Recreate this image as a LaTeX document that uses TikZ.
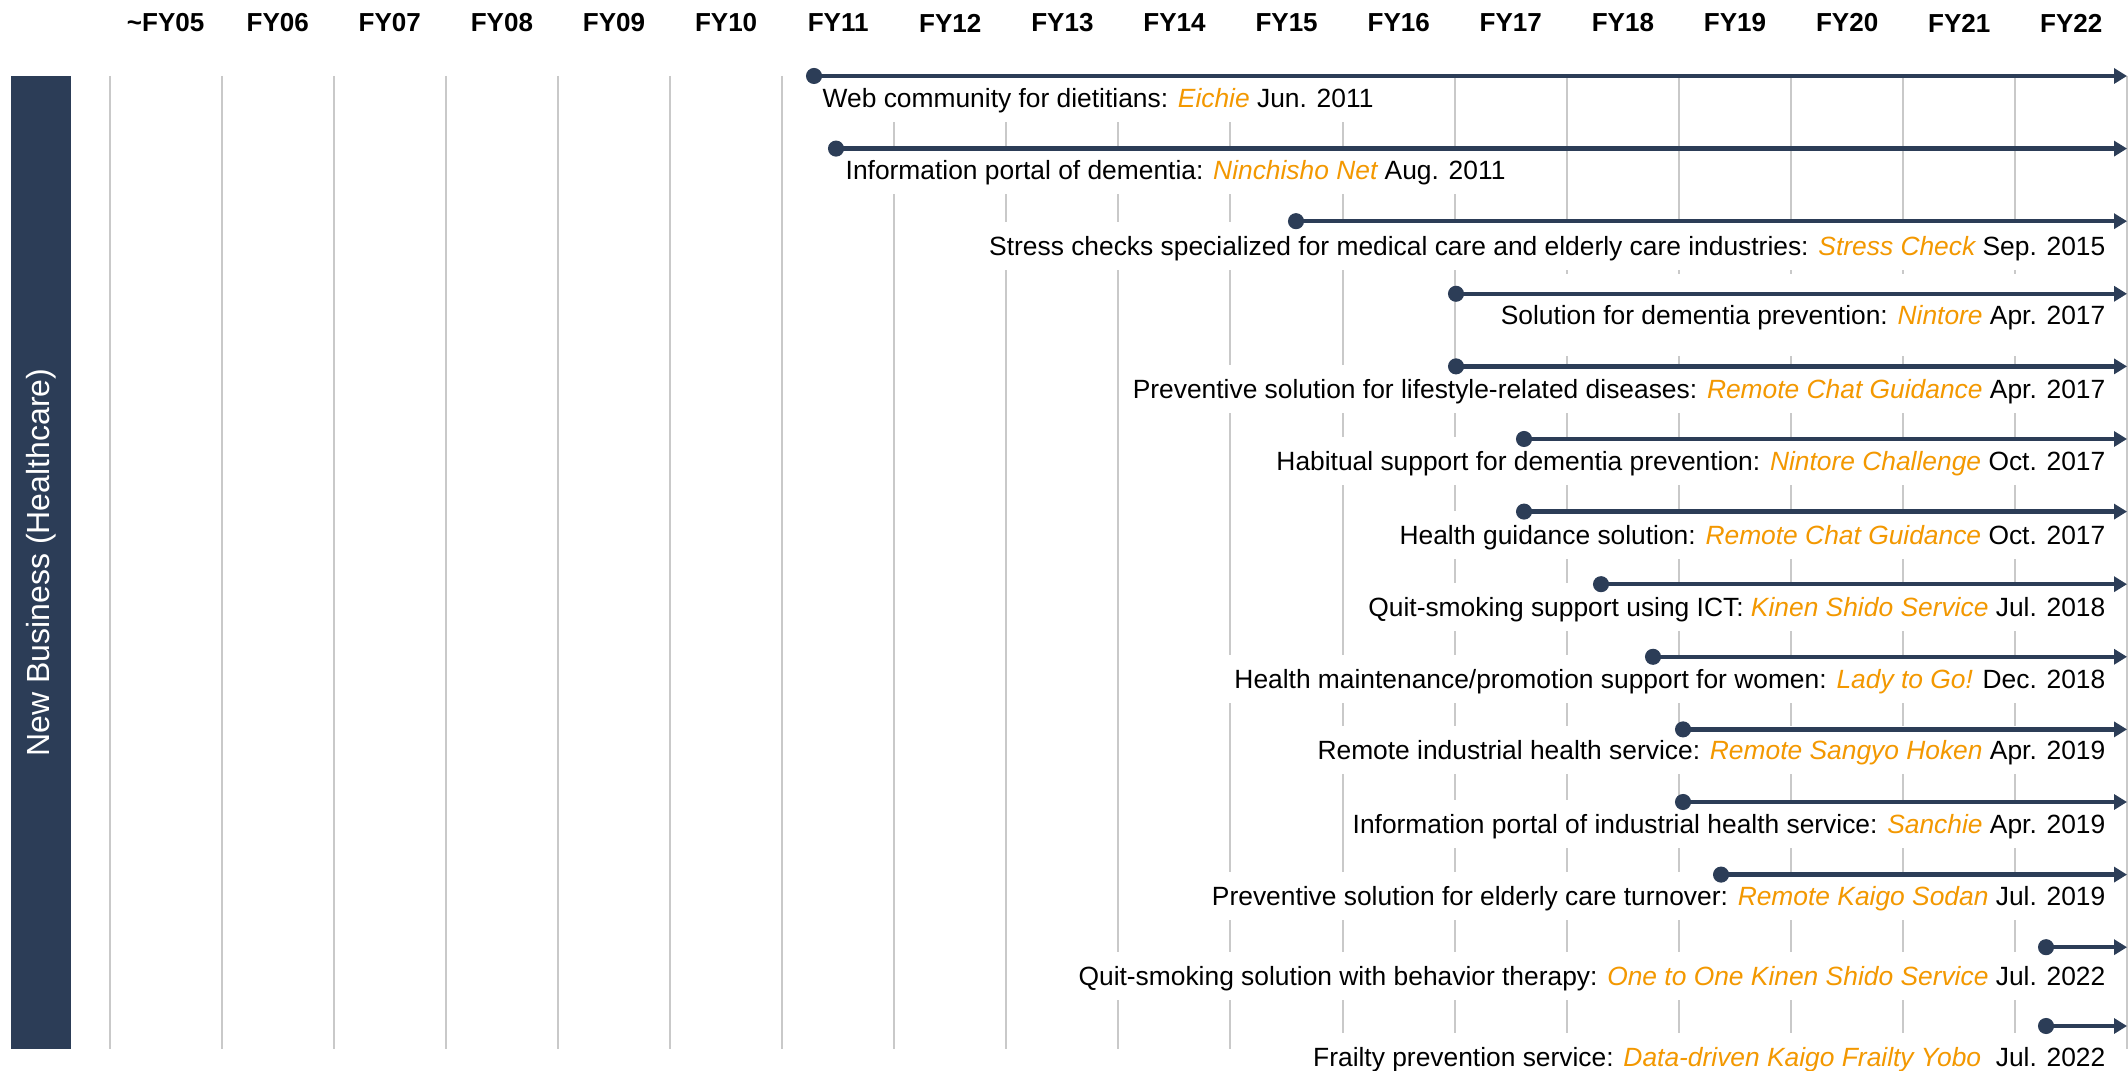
\documentclass[tikz,border=0pt]{standalone}
\usepackage{fontspec}
\setmainfont{Liberation Sans}
\usepackage{tikz}
\usetikzlibrary{arrows.meta}
\definecolor{HCNavy}{HTML}{2C3D57}
\definecolor{HCOrange}{HTML}{F39800}
\definecolor{HCGrid}{HTML}{C9C9C9}
\newcommand{\svc}[1]{\textcolor{HCOrange}{\itshape #1}}
\tikzset{
  yearlabel/.style={inner sep=0pt,font=\fontsize{7.4pt}{8.8pt}\selectfont\bfseries},
  gridline/.style={HCGrid,line width=0.15mm},
  entry/.style={fill=white,inner xsep=0.6mm,inner ysep=0.8mm,text height=0.72em,text depth=0.2em,font=\fontsize{7.5pt}{9pt}\selectfont},
  track/.style={HCNavy,line width=0.45mm,{Circle[length=1.6mm]}-{Triangle[length=1.3mm,width=1.5mm]}},
  sidebar/.style={fill=HCNavy,text=white,rotate=90,minimum width=9.73cm,minimum height=0.6cm,inner sep=0pt,font=\fontsize{9.1pt}{11pt}\selectfont}
}

\begin{document}
\begin{tikzpicture}[x=0.01cm,y=-0.01cm]
\path[use as bounding box] (0,0) rectangle (2128,1071);
\node[sidebar] (bar) at (41,562.5) {New Business (Healthcare)};
\node[yearlabel] (h05) at (165.6,23) {\textasciitilde FY05};
\node[yearlabel] (h06) at (277.7,23) {FY06};
\node[yearlabel] (h07) at (389.8,23) {FY07};
\node[yearlabel] (h08) at (501.9,23) {FY08};
\node[yearlabel] (h09) at (614.0,23) {FY09};
\node[yearlabel] (h10) at (726.1,23) {FY10};
\node[yearlabel] (h11) at (838.2,23) {FY11};
\node[yearlabel] (h12) at (950.3,23) {FY12};
\node[yearlabel] (h13) at (1062.4,23) {FY13};
\node[yearlabel] (h14) at (1174.5,23) {FY14};
\node[yearlabel] (h15) at (1286.6,23) {FY15};
\node[yearlabel] (h16) at (1398.7,23) {FY16};
\node[yearlabel] (h17) at (1510.8,23) {FY17};
\node[yearlabel] (h18) at (1622.9,23) {FY18};
\node[yearlabel] (h19) at (1735.0,23) {FY19};
\node[yearlabel] (h20) at (1847.1,23) {FY20};
\node[yearlabel] (h21) at (1959.2,23) {FY21};
\node[yearlabel] (h22) at (2071.3,23) {FY22};
\draw[gridline] (110,76) -- (110,1049);
\draw[gridline] (222,76) -- (222,1049);
\draw[gridline] (334,76) -- (334,1049);
\draw[gridline] (446,76) -- (446,1049);
\draw[gridline] (558,76) -- (558,1049);
\draw[gridline] (670,76) -- (670,1049);
\draw[gridline] (782,76) -- (782,1049);
\draw[gridline] (894,76) -- (894,1049);
\draw[gridline] (1006,76) -- (1006,1049);
\draw[gridline] (1118,76) -- (1118,1049);
\draw[gridline] (1230,76) -- (1230,1049);
\draw[gridline] (1343,76) -- (1343,1049);
\draw[gridline] (1455,76) -- (1455,1049);
\draw[gridline] (1567,76) -- (1567,1049);
\draw[gridline] (1679,76) -- (1679,1049);
\draw[gridline] (1791,76) -- (1791,1049);
\draw[gridline] (1903,76) -- (1903,1049);
\draw[gridline] (2015,76) -- (2015,1049);
\draw[gridline] (2127,76) -- (2127,1049);
\node[entry,anchor=west] (t1) at (816,98) {Web community for dietitians: \svc{Eichie} Jun. 2011};
\node[entry,anchor=west] (t2) at (839,170) {Information portal of dementia: \svc{Ninchisho Net} Aug. 2011};
\node[entry,anchor=east] (t3) at (2112,246) {Stress checks specialized for medical care and elderly care industries: \svc{Stress Check} Sep. 2015};
\node[entry,anchor=east,inner ysep=2.5mm] (t4) at (2112,315) {Solution for dementia prevention: \svc{Nintore} Apr. 2017};
\node[entry,anchor=east] (t5) at (2112,389) {Preventive solution for lifestyle-related diseases: \svc{Remote Chat Guidance} Apr. 2017};
\node[entry,anchor=east] (t6) at (2112,461) {Habitual support for dementia prevention: \svc{Nintore Challenge} Oct. 2017};
\node[entry,anchor=east] (t7) at (2112,535) {Health guidance solution: \svc{Remote Chat Guidance} Oct. 2017};
\node[entry,anchor=east] (t8) at (2112,607) {Quit-smoking support using ICT: \svc{Kinen Shido Service} Jul. 2018};
\node[entry,anchor=east] (t9) at (2112,679) {Health maintenance/promotion support for women: \svc{Lady to Go!} Dec. 2018};
\node[entry,anchor=east] (t10) at (2112,750) {Remote industrial health service: \svc{Remote Sangyo Hoken} Apr. 2019};
\node[entry,anchor=east] (t11) at (2112,824) {Information portal of industrial health service: \svc{Sanchie} Apr. 2019};
\node[entry,anchor=east] (t12) at (2112,896) {Preventive solution for elderly care turnover: \svc{Remote Kaigo Sodan} Jul. 2019};
\node[entry,anchor=east] (t13) at (2112,976) {Quit-smoking solution with behavior therapy: \svc{One to One Kinen Shido Service} Jul. 2022};
\node[entry,anchor=east] (t14) at (2112,1057) {Frailty prevention service: \svc{Data-driven Kaigo Frailty Yobo}\ \ Jul. 2022};
\coordinate (s1) at (806,76);
\coordinate (e1) at (2127,76);
\coordinate (s2) at (828,148.6);
\coordinate (e2) at (2127,148.6);
\coordinate (s3) at (1288,221.2);
\coordinate (e3) at (2127,221.2);
\coordinate (s4) at (1448,293.8);
\coordinate (e4) at (2127,293.8);
\coordinate (s5) at (1448,366.4);
\coordinate (e5) at (2127,366.4);
\coordinate (s6) at (1516,439);
\coordinate (e6) at (2127,439);
\coordinate (s7) at (1516,511.6);
\coordinate (e7) at (2127,511.6);
\coordinate (s8) at (1593,584.2);
\coordinate (e8) at (2127,584.2);
\coordinate (s9) at (1645,656.8);
\coordinate (e9) at (2127,656.8);
\coordinate (s10) at (1675,729.4);
\coordinate (e10) at (2127,729.4);
\coordinate (s11) at (1675,802);
\coordinate (e11) at (2127,802);
\coordinate (s12) at (1713,874.6);
\coordinate (e12) at (2127,874.6);
\coordinate (s13) at (2038,947.2);
\coordinate (e13) at (2127,947.2);
\coordinate (s14) at (2038,1026);
\coordinate (e14) at (2127,1026);
\draw[track] (s1) -- (e1);
\draw[track] (s2) -- (e2);
\draw[track] (s3) -- (e3);
\draw[track] (s4) -- (e4);
\draw[track] (s5) -- (e5);
\draw[track] (s6) -- (e6);
\draw[track] (s7) -- (e7);
\draw[track] (s8) -- (e8);
\draw[track] (s9) -- (e9);
\draw[track] (s10) -- (e10);
\draw[track] (s11) -- (e11);
\draw[track] (s12) -- (e12);
\draw[track] (s13) -- (e13);
\draw[track] (s14) -- (e14);
\end{tikzpicture}
\end{document}
